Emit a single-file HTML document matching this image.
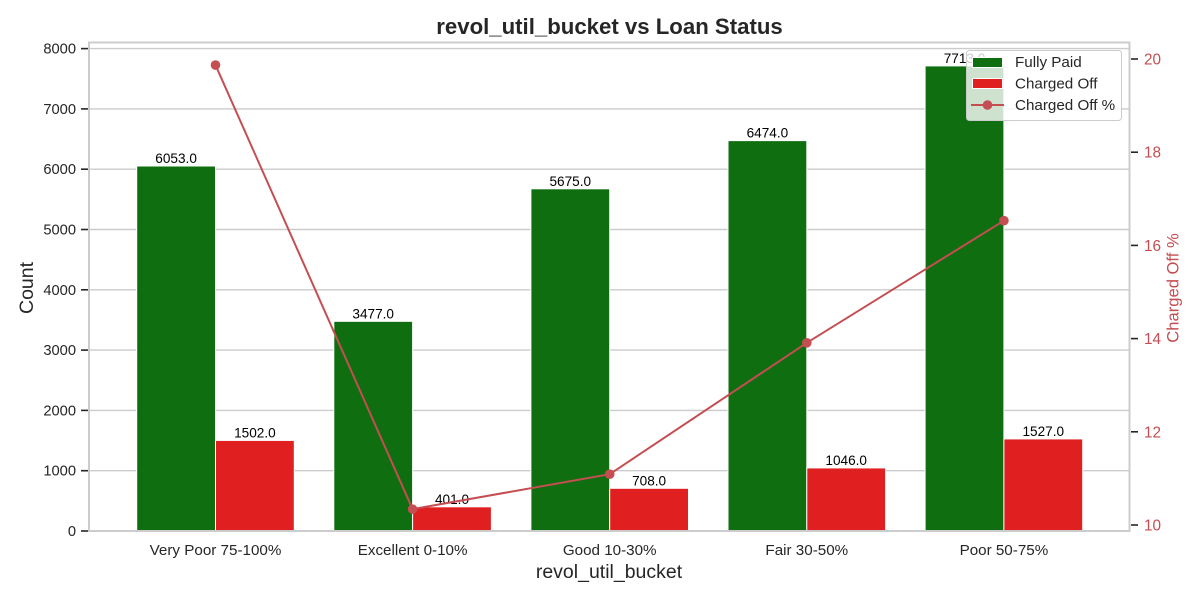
<!DOCTYPE html>
<html lang="en">
<head>
<meta charset="utf-8">
<title>revol_util_bucket vs Loan Status</title>
<style>
html,body{margin:0;padding:0;background:#fff;width:1200px;height:600px;overflow:hidden}
svg{display:block;font-family:"Liberation Sans",Arial,sans-serif}
</style>
</head>
<body>
<svg id="chart" width="1200" height="600" viewBox="0 0 1200 600" xmlns="http://www.w3.org/2000/svg"></svg>
<script>
const categories = ["Very Poor 75-100%", "Excellent 0-10%", "Good 10-30%", "Fair 30-50%", "Poor 50-75%"];
const fullyPaid = [6053, 3477, 5675, 6474, 7713];
const chargedOff = [1502, 401, 708, 1046, 1527];
const chargedOffPct = [19.87, 10.34, 11.09, 13.91, 16.53];
const countTicks = [0, 1000, 2000, 3000, 4000, 5000, 6000, 7000, 8000];
const pctTicks = [10, 12, 14, 16, 18, 20];

const NS = "http://www.w3.org/2000/svg";
const svg = document.getElementById("chart");
const plot = {left: 89, right: 1129.5, top: 42.5, bottom: 531};
const DARK = "#262626", RED = "#c44e52", GRID = "#cccccc";

function xCat(i) { return 215.5 + 197.1 * i; }
function yCount(v) { return 531 - v * (482.4 / 8000); }
function yPct(v) { return 525 - (v - 10) * 46.6; }

function make(tag, attrs, text) {
  const el = document.createElementNS(NS, tag);
  for (const k in attrs) el.setAttribute(k, attrs[k]);
  if (text !== undefined) el.textContent = text;
  svg.appendChild(el);
  return el;
}

countTicks.forEach(function (t) {
  const y = yCount(t);
  const grid = make("line", {x1: plot.left, x2: plot.right, y1: y, y2: y, stroke: GRID, "stroke-width": 1.4});
  
  
  const tick = make("line", {x1: 81, x2: 88, y1: y, y2: y, stroke: DARK, "stroke-width": 1.6});
  
  
  const label = make("text", {x: 76, y: y + 5, "text-anchor": "end", "font-size": 14.7, fill: DARK}, String(t));
  
  
});

const barW = 78.8;
function drawBar(i, v, offset, color, name) {
  const y = yCount(v);
  const x = xCat(i) + offset;
  const bar = make("rect", {x: x, y: y, width: barW, height: 531 - y, fill: color, stroke: "#ffffff", "stroke-width": 1});
  
  
  const label = make("text", {x: x + barW / 2, y: y - 3, "text-anchor": "middle", "font-size": 13.6, fill: "#000000"}, v.toFixed(1));
  
  
}
categories.forEach(function (c, i) {
  drawBar(i, fullyPaid[i], -barW, "#0f6e10", "bar-fully-paid");
  drawBar(i, chargedOff[i], 0, "#e02020", "bar-charged-off");
});

const frame = make("rect", {x: plot.left, y: plot.top, width: plot.right - plot.left, height: plot.bottom - plot.top, fill: "none", stroke: GRID, "stroke-width": 2});



categories.forEach(function (c, i) {
  const label = make("text", {x: xCat(i), y: 555, "text-anchor": "middle", "font-size": 15.2, fill: DARK}, c);
  
  
});

pctTicks.forEach(function (t) {
  const y = yPct(t);
  const tick = make("line", {x1: 1131, x2: 1138, y1: y, y2: y, stroke: DARK, "stroke-width": 1.6});
  
  
  const label = make("text", {x: 1144, y: y + 5.5, "font-size": 15.3, fill: RED}, String(t));
  
  
});

const line = make("polyline", {
  points: chargedOffPct.map(function (p, i) { return xCat(i) + "," + yPct(p); }).join(" "),
  fill: "none", stroke: RED, "stroke-width": 2
});


chargedOffPct.forEach(function (p, i) {
  const pt = make("circle", {cx: xCat(i), cy: yPct(p), r: 4.8, fill: RED});
  
  
});

const title = make("text", {x: 609.5, y: 34, "text-anchor": "middle", "font-size": 22.2, "font-weight": "bold", fill: DARK}, "revol_util_bucket vs Loan Status");


const xTitle = make("text", {x: 609, y: 578, "text-anchor": "middle", "font-size": 19.5, fill: DARK}, "revol_util_bucket");


const yTitle = make("text", {x: 0, y: 0, transform: "translate(33 288) rotate(-90)", "text-anchor": "middle", "font-size": 19.5, fill: DARK}, "Count");


const rTitle = make("text", {x: 0, y: 0, transform: "translate(1178.5 288) rotate(-90)", "text-anchor": "middle", "font-size": 16.6, fill: RED}, "Charged Off %");



const legend = make("rect", {x: 966.5, y: 50.5, width: 155, height: 70, rx: 3, fill: "#ffffff", "fill-opacity": 0.8, stroke: GRID, "stroke-width": 1});


const swatch1 = make("rect", {x: 972.5, y: 57.5, width: 30, height: 10, fill: "#0f6e10", stroke: "#ffffff", "stroke-width": 1});


const swatch2 = make("rect", {x: 972.5, y: 78.5, width: 30, height: 10, fill: "#e02020", stroke: "#ffffff", "stroke-width": 1});


const swatch3 = make("line", {x1: 971, x2: 1004, y1: 105, y2: 105, stroke: RED, "stroke-width": 2});


const swatch3b = make("circle", {cx: 987.5, cy: 105, r: 4.8, fill: RED});


const legendLabels = ["Fully Paid", "Charged Off", "Charged Off %"];
legendLabels.forEach(function (t, i) {
  const label = make("text", {x: 1015, y: 67 + i * 21.5, "font-size": 15.2, fill: DARK}, t);
  
  
});
</script>
</body>
</html>
